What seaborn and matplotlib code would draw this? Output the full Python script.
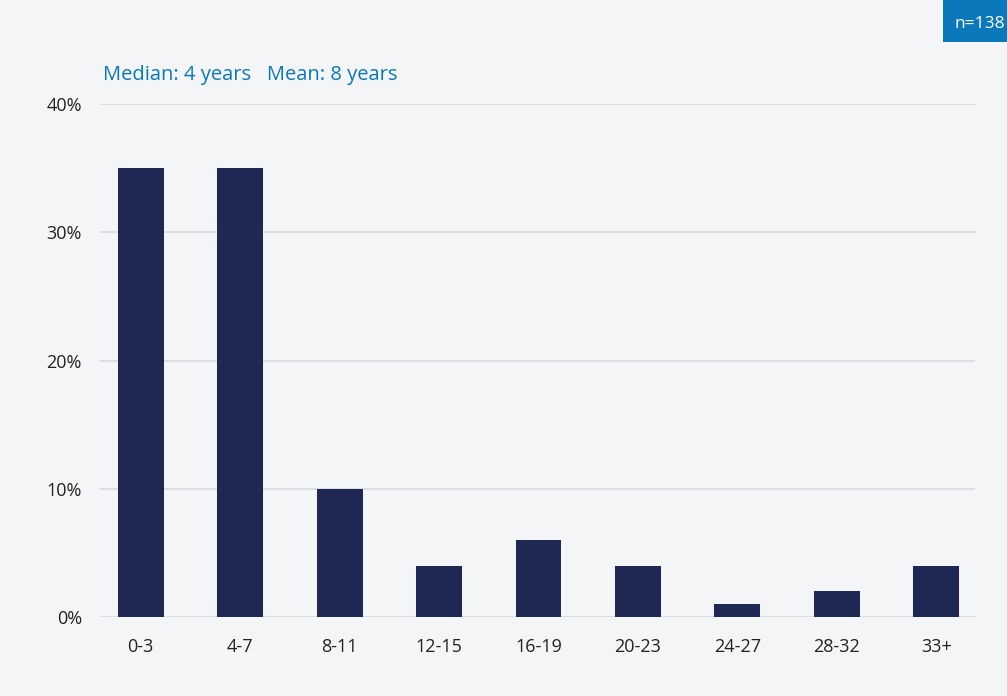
import matplotlib
matplotlib.use("Agg")
import matplotlib.pyplot as plt
import seaborn as sns
import pandas as pd

# Tenure distribution (share of respondents, %)
categories = ["0-3", "4-7", "8-11", "12-15", "16-19", "20-23", "24-27", "28-32", "33+"]
shares = [35, 35, 10, 4, 6, 4, 1, 2, 4]
y_ticks = [0, 10, 20, 30, 40]
y_tick_labels = ["0%", "10%", "20%", "30%", "40%"]
summary_text = "Median: 4 years   Mean: 8 years"
sample_text = "n=138"

bg = "#f4f5f7"
bar_color = "#1f2855"
accent = "#0b78bb"
text_color = "#222222"
grid_color = "#d9dde3"

sns.set_theme(style="white")
plt.rcParams["font.family"] = ["Open Sans", "DejaVu Sans"]

df = pd.DataFrame({"tenure": categories, "share": shares})

fig = plt.figure(figsize=(10.07, 6.96), dpi=100, facecolor=bg)
ax = fig.add_axes([100 / 1007, (696 - 617) / 696, 875 / 1007, (617 - 104) / 696])
ax.set_facecolor(bg)

sns.barplot(data=df, x="tenure", y="share", color=bar_color, width=0.46,
            saturation=1, linewidth=0, ax=ax, zorder=3)

ax.set_xlim(-0.41, 8.39)
ax.set_ylim(0, 40)
ax.set_yticks(y_ticks)
ax.set_yticklabels(y_tick_labels)
ax.yaxis.grid(True, color=grid_color, linewidth=1.3, zorder=0)
ax.set_axisbelow(True)
for s in ax.spines.values():
    s.set_visible(False)
ax.tick_params(axis="both", length=0, labelsize=13, colors=text_color)
ax.tick_params(axis="y", pad=13)
ax.tick_params(axis="x", pad=15)
ax.set_xlabel("")
ax.set_ylabel("")

fig.text(103 / 1007, 1 - 75 / 696, summary_text, color=accent, fontsize=14.5,
         ha="left", va="center")

# Sample size badge in the top-right corner
fig.patches.append(plt.Rectangle((943 / 1007, 1 - 42 / 696), 64 / 1007, 42 / 696,
                                 transform=fig.transFigure, facecolor=accent,
                                 edgecolor="none", figure=fig))
fig.text(980 / 1007, 1 - 24 / 696, sample_text, color="white", fontsize=12.5,
         ha="center", va="center")

fig.savefig("out.png", dpi=100, facecolor=bg)
